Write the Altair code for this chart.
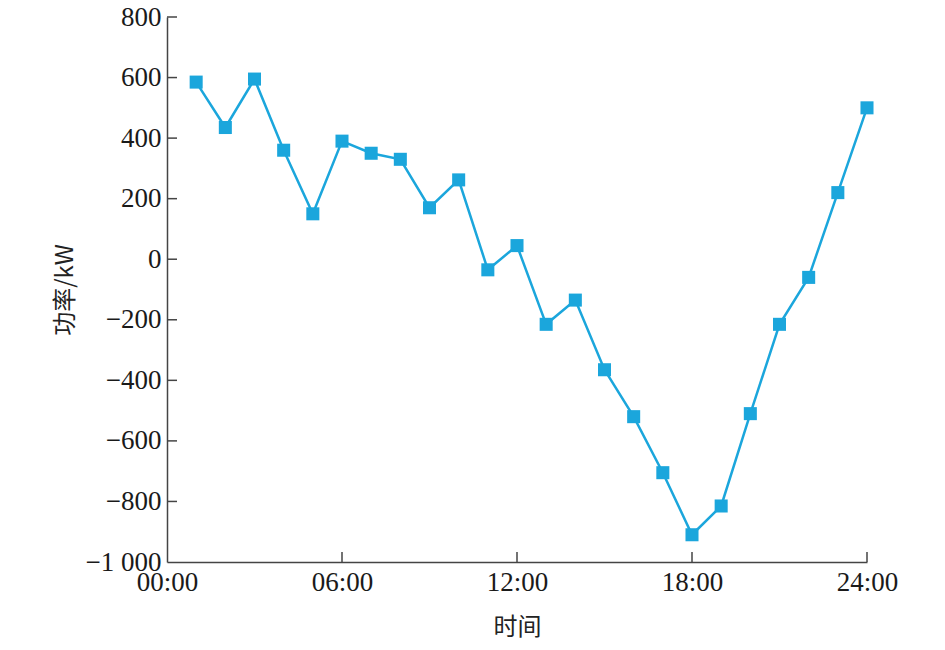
import altair as alt
import pandas as pd

hours = list(range(1, 25))
power = [585, 435, 595, 360, 150, 390, 350, 330, 170, 262, -35, 45,
         -215, -135, -365, -520, -705, -910, -815, -510, -215, -60, 220, 500]
x_ticks = [0, 6, 12, 18, 24]
y_ticks = [-1000, -800, -600, -400, -200, 0, 200, 400, 600, 800]

df = pd.DataFrame({"h": hours, "p": power})
xt = pd.DataFrame({"t": x_ticks})
yt = pd.DataFrame({"t": y_ticks})

W, H = 700, 545
color = "#1BA6DC"
serif = "Liberation Serif"
cjk = "Noto Sans CJK SC"

xscale = alt.Scale(domain=[0, 24], nice=False, zero=False)
yscale = alt.Scale(domain=[-1000, 800], nice=False, zero=False)

xaxis = alt.Axis(values=x_ticks, labelExpr="(datum.value < 10 ? '0' : '') + format(datum.value, 'd') + ':00'",
                 title="时间", titleFont=cjk, titleFontSize=24, titleFontWeight="normal",
                 titleColor="#222", titlePadding=20,
                 labelFont=serif, labelFontSize=27, labelColor="#1a1a1a", labelPadding=7,
                 ticks=False, grid=False, domainColor="#444", domainWidth=1.5, labelFlush=False)
yaxis = alt.Axis(values=y_ticks, labelExpr="replace(format(datum.value, ','), ',', ' ')",
                 title="功率/kW", titleFont=cjk, titleFontSize=24, titleFontWeight="normal",
                 titleColor="#222", titlePadding=8,
                 labelFont=serif, labelFontSize=27, labelColor="#1a1a1a", labelPadding=6,
                 ticks=False, grid=False, domainColor="#444", domainWidth=1.5)

line = alt.Chart(df).mark_line(color=color, strokeWidth=2.5).encode(
    x=alt.X("h:Q", scale=xscale, axis=xaxis),
    y=alt.Y("p:Q", scale=yscale, axis=yaxis),
)
pts = alt.Chart(df).mark_square(color=color, size=170, opacity=1).encode(
    x=alt.X("h:Q", scale=xscale),
    y=alt.Y("p:Q", scale=yscale),
)
xtick = alt.Chart(xt).transform_filter("datum.t > 0").mark_rule(color="#444", strokeWidth=1.5).encode(
    x=alt.X("t:Q", scale=xscale), y=alt.value(H), y2=alt.value(H - 10))
ytick = alt.Chart(yt).transform_filter("datum.t > -1000").mark_rule(color="#444", strokeWidth=1.5).encode(
    y=alt.Y("t:Q", scale=yscale), x=alt.value(0), x2=alt.value(10))

chart = alt.layer(xtick, ytick, line, pts).properties(
    width=W, height=H,
    autosize=alt.AutoSizeParams(type="none"),
    padding={"left": 159, "top": 9, "right": 70, "bottom": 80},
    background="white",
).configure_view(stroke=None)

chart.save("out.html", embed_options={"renderer": "svg", "actions": False})
